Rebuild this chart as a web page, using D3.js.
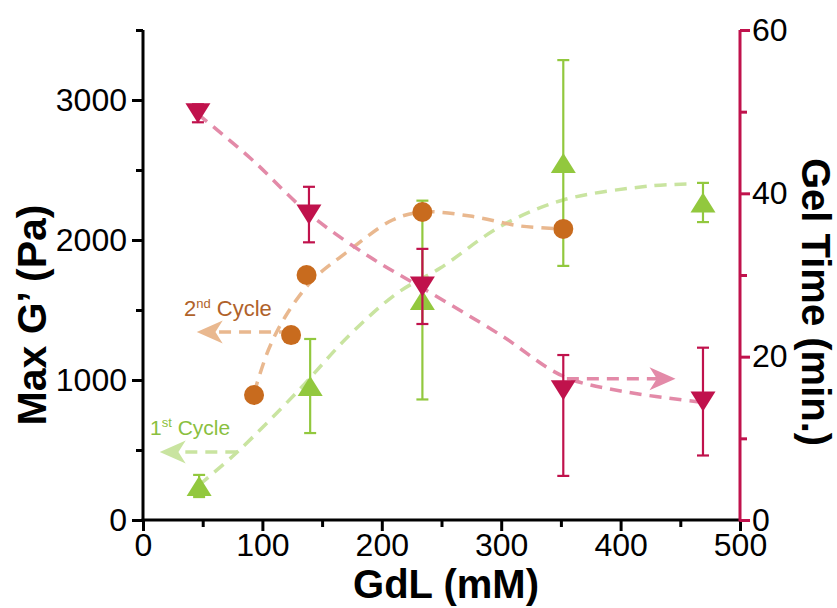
<!DOCTYPE html>
<html><head><meta charset="utf-8">
<script src="https://cdn.jsdelivr.net/npm/d3@7"></script>
<style>
html,body{margin:0;padding:0;background:#fff;}
svg{display:block;font-family:"Liberation Sans",Arial,sans-serif;}
</style></head>
<body><svg id="chart" width="837" height="608"></svg>
<script>
// ---- data ----
const xTicks = [0, 100, 200, 300, 400, 500];
const yLeftTicks = [0, 1000, 2000, 3000];
const yRightTicks = [0, 20, 40, 60];

// 1st cycle: Max G' (Pa), green up-triangles
const gdl1 = [47, 140, 234, 352, 469];
const gMax1 = [243, 957, 1571, 2550, 2268];
const gErr1 = [79, 336, 710, 735, 140];

// 2nd cycle: Max G' (Pa), orange circles
const gdl2 = [93, 124, 137, 234, 352];
const gMax2 = [893, 1321, 1750, 2200, 2079];

// Gel time (min.), red down-triangles
const gdlT = [46, 139, 234, 352, 469];
const gelTime = [49.8, 37.4, 28.6, 15.9, 14.5];
const gelErrUp = [1.1, 3.4, 4.6, 4.3, 6.6];
const gelErrDown = [1.1, 3.4, 4.6, 10.5, 6.6];

// dashed guide curves (GdL, value)
const fit1X = [47, 79, 129, 173, 213, 249, 300, 352, 425, 456];
const fit1Y = [250, 486, 914, 1321, 1621, 1800, 2100, 2286, 2386, 2400];
const fit2X = [93, 105, 119, 142, 171, 209, 234, 274, 316, 352];
const fit2Y = [907, 1214, 1450, 1714, 1914, 2143, 2200, 2171, 2100, 2079];
const fitTX = [46, 90, 139, 190, 234, 300, 352, 400, 469];
const fitTY = [49.7, 44.3, 37.5, 32.2, 28.4, 22.6, 17.6, 15.8, 14.4];

// annotation arrows: [fromX, toX, value]
const arrow1 = [79, 14, 486];     // left axis
const arrow2 = [124, 45, 1343];   // left axis
const arrowT = [355, 446, 17.3];  // right axis

const colRed = "#c0124c", colRedL = "#e38aa8";
const colGreen = "#92c83e", colGreenL = "#c9e4a0";
const colOrange = "#c86b1e", colOrangeL = "#e9b88f";

const svg = d3.select("#chart");
const x = d3.scaleLinear([0, 500], [143, 740]);
const yL = d3.scaleLinear([0, 3500], [520, 30]);
const yR = d3.scaleLinear([0, 60], [520, 30]);
const fmt = d3.format("d");
const TF = 32;

// ---- axes ----
function styleAxis(g, color) {
  g.selectAll("path").remove();
  g.selectAll("line").attr("stroke", color).attr("stroke-width", 3);
  g.selectAll("text").attr("font-size", TF).attr("fill", "#000");
}
// minor ticks
svg.append("g").attr("transform", "translate(0,520)")
  .call(d3.axisBottom(x).tickValues([50,150,250,350,450]).tickSize(7).tickFormat(""))
  .call(g => styleAxis(g, "#000"));
svg.append("g").attr("transform", "translate(143,0)")
  .call(d3.axisLeft(yL).tickValues([500,1500,2500,3500]).tickSize(7).tickFormat(""))
  .call(g => styleAxis(g, "#000"));
svg.append("g").attr("transform", "translate(740,0)")
  .call(d3.axisRight(yR).tickValues([10,30,50]).tickSize(7).tickFormat(""))
  .call(g => styleAxis(g, colRed));
// major ticks
svg.append("g").attr("transform", "translate(0,520)")
  .call(d3.axisBottom(x).tickValues(xTicks).tickSize(11).tickPadding(2).tickFormat(fmt))
  .call(g => styleAxis(g, "#000"));
svg.append("g").attr("transform", "translate(143,0)")
  .call(d3.axisLeft(yL).tickValues(yLeftTicks).tickSize(11).tickPadding(5).tickFormat(fmt))
  .call(g => styleAxis(g, "#000"));
svg.append("g").attr("transform", "translate(740,0)")
  .call(d3.axisRight(yR).tickValues(yRightTicks).tickSize(10).tickPadding(2).tickFormat(fmt))
  .call(g => styleAxis(g, colRed));
// axis lines
svg.append("line").attr("x1", 143).attr("x2", 143).attr("y1", 30).attr("y2", 521.5)
  .attr("stroke", "#000").attr("stroke-width", 3);
svg.append("line").attr("x1", 141.5).attr("x2", 740).attr("y1", 520).attr("y2", 520)
  .attr("stroke", "#000").attr("stroke-width", 3);
svg.append("line").attr("x1", 740).attr("x2", 740).attr("y1", 30).attr("y2", 521.5)
  .attr("stroke", colRed).attr("stroke-width", 3);

// axis titles
svg.append("text").attr("x", 446).attr("y", 598).attr("text-anchor", "middle")
  .attr("font-size", 40).attr("font-weight", "bold").text("GdL (mM)");
svg.append("text").attr("transform", "translate(46,315) rotate(-90)").attr("text-anchor", "middle")
  .attr("font-size", 41).attr("font-weight", "bold").text("Max G\u2019 (Pa)");
svg.append("text").attr("transform", "translate(802,302) rotate(90)").attr("text-anchor", "middle")
  .attr("font-size", 40).attr("font-weight", "bold").text("Gel Time (min.)");

// ---- dashed curves ----
const lineL = d3.line().x(d => x(d[0])).y(d => yL(d[1])).curve(d3.curveCatmullRom);
const lineR = d3.line().x(d => x(d[0])).y(d => yR(d[1])).curve(d3.curveCatmullRom);
const dash = "12,8";
svg.append("path").attr("d", lineL(d3.zip(fit1X, fit1Y))).attr("fill", "none")
  .attr("stroke", colGreenL).attr("stroke-width", 3.5).attr("stroke-dasharray", dash);
svg.append("path").attr("d", lineL(d3.zip(fit2X, fit2Y))).attr("fill", "none")
  .attr("stroke", colOrangeL).attr("stroke-width", 3.5).attr("stroke-dasharray", dash);
svg.append("path").attr("d", lineR(d3.zip(fitTX, fitTY))).attr("fill", "none")
  .attr("stroke", colRedL).attr("stroke-width", 3.5).attr("stroke-dasharray", dash);

// ---- arrows ----
function arrow(a, ys, color) {
  const x0 = x(a[0]), x1 = x(a[1]), yy = ys(a[2]);
  const dir = Math.sign(x1 - x0);
  const L = 26, H = 11.5;
  svg.append("line").attr("x1", x0).attr("x2", x1 - dir * L * 0.7).attr("y1", yy).attr("y2", yy)
    .attr("stroke", color).attr("stroke-width", 3.5).attr("stroke-dasharray", dash);
  const p = [[x1, yy], [x1 - dir * L, yy - H], [x1 - dir * L * 0.72, yy], [x1 - dir * L, yy + H]];
  svg.append("path").attr("d", "M" + p.map(q => q.join(",")).join("L") + "Z").attr("fill", color);
}
arrow(arrow1, yL, colGreenL);
arrow(arrow2, yL, colOrangeL);
arrow(arrowT, yR, colRedL);

// annotation labels
const t1 = svg.append("text").attr("x", 150).attr("y", 435).attr("font-size", 21).attr("fill", "#8abf40");
t1.append("tspan").text("1");
t1.append("tspan").attr("font-size", 13).attr("dy", -8).text("st");
t1.append("tspan").attr("dy", 8).text(" Cycle");
const t2 = svg.append("text").attr("x", 184).attr("y", 316).attr("font-size", 22).attr("fill", "#b0622a");
t2.append("tspan").text("2");
t2.append("tspan").attr("font-size", 13).attr("dy", -8).text("nd");
t2.append("tspan").attr("dy", 8).text(" Cycle");

// ---- error bars & markers ----
function errBar(cx, top, bot, color) {
  const g = svg.append("g").attr("stroke", color).attr("stroke-width", 2.2);
  g.append("line").attr("x1", cx).attr("x2", cx).attr("y1", top).attr("y2", bot);
  g.append("line").attr("x1", cx - 6).attr("x2", cx + 6).attr("y1", top).attr("y2", top);
  g.append("line").attr("x1", cx - 6).attr("x2", cx + 6).attr("y1", bot).attr("y2", bot);
}
const W = 25, Ht = 20;
// green
gdl1.forEach((d, i) => errBar(x(d), yL(gMax1[i] + gErr1[i]), yL(gMax1[i] - gErr1[i]), colGreen));
svg.append("g").selectAll("path").data(d3.zip(gdl1, gMax1)).join("path")
  .attr("d", d => { const cx = x(d[0]), cy = yL(d[1]);
    return `M${cx},${cy - Ht/2}L${cx + W/2},${cy + Ht/2}L${cx - W/2},${cy + Ht/2}Z`; })
  .attr("fill", colGreen);
// orange
svg.append("g").selectAll("circle").data(d3.zip(gdl2, gMax2)).join("circle")
  .attr("cx", d => x(d[0])).attr("cy", d => yL(d[1])).attr("r", 10).attr("fill", colOrange);
// red
gdlT.forEach((d, i) => errBar(x(d), yR(gelTime[i] + gelErrUp[i]), yR(gelTime[i] - gelErrDown[i]), colRed));
svg.append("g").selectAll("path").data(d3.zip(gdlT, gelTime)).join("path")
  .attr("d", d => { const cx = x(d[0]), cy = yR(d[1]);
    return `M${cx},${cy + Ht/2}L${cx + W/2},${cy - Ht/2}L${cx - W/2},${cy - Ht/2}Z`; })
  .attr("fill", colRed);
</script></body></html>
